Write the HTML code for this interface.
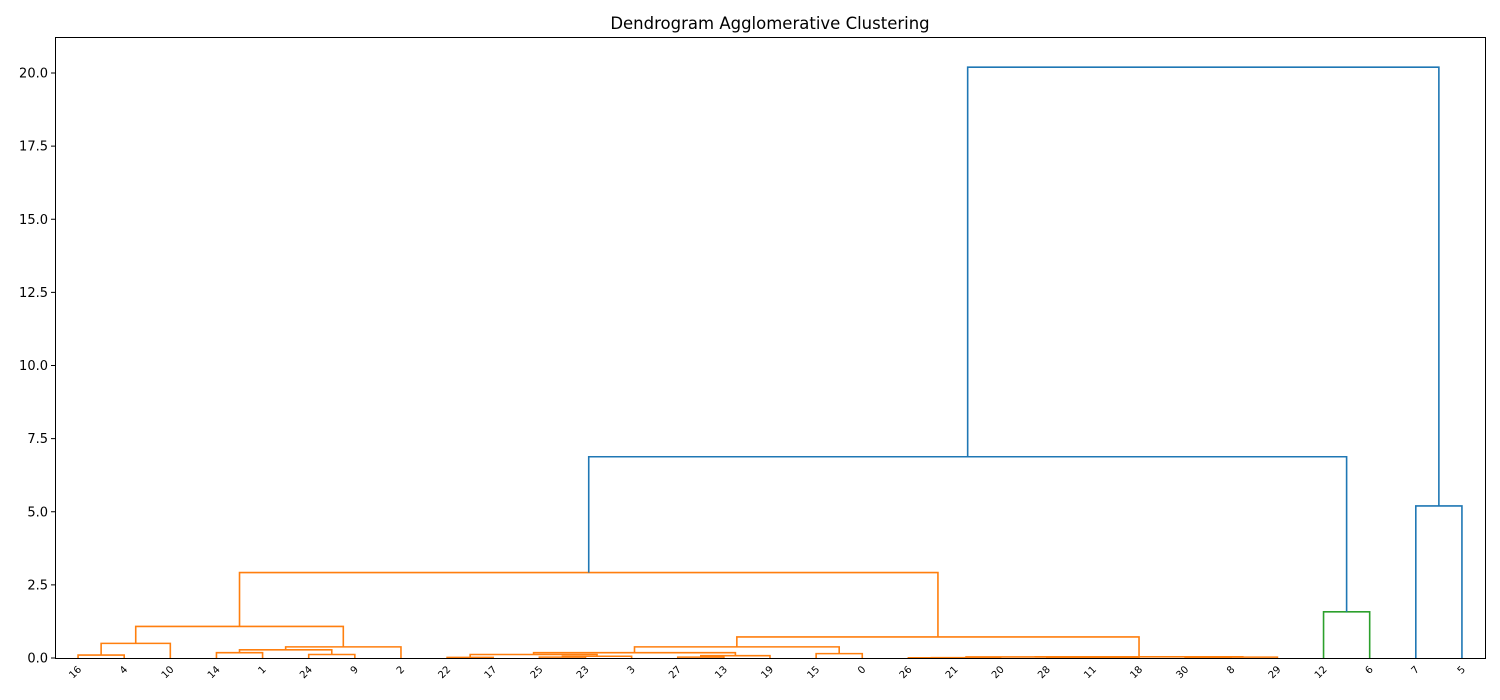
<!DOCTYPE html>
<html><head><meta charset="utf-8">
<style>
body{margin:0;background:#fff;}
svg{display:block;font-family:"DejaVu Sans","Liberation Sans",sans-serif;}
</style></head>
<body>
<svg id="chart" width="1500" height="700" xmlns="http://www.w3.org/2000/svg">
<rect width="1500" height="700" fill="#fff"/>
<text x="770" y="29" text-anchor="middle" font-size="16.5">Dendrogram Agglomerative Clustering</text>
<g id="links"></g>
<g id="yaxis"></g>
<g id="xaxis"></g>
<rect x="55.5" y="37.5" width="1430" height="621" fill="none" stroke="#000" stroke-width="1"/>
</svg>
<script>
const leafLabels = ["16","4","10","14","1","24","9","2","22","17","25","23","3","27","13","19","15","0","26","21","20","28","11","18","30","8","29","12","6","7","5"];
// node ids: 0..30 leaves (by position), 31+i = cluster created by link i
const linkLeft   = [0, 31, 3, 5, 33, 35, 32, 8, 10, 39, 38, 13, 42, 41, 16, 44, 18, 47, 21, 49, 48, 24, 52, 51, 46, 37, 27, 56, 29, 58];
const linkRight  = [1, 2,  4, 6, 34, 7,  36, 9, 11, 12, 40, 14, 15, 43, 17, 45, 19, 20, 22, 23, 50, 25, 26, 53, 54, 55, 28, 57, 30, 59];
const linkHeight = [0.1,0.5,0.18,0.12,0.28,0.38,1.08,0.02,0.03,0.06,0.12,0.03,0.08,0.18,0.15,0.38,0.005,0.01,0.02,0.025,0.035,0.02,0.03,0.04,0.72,2.92,1.58,6.88,5.2,20.2];
const linkGroup  = ["o","o","o","o","o","o","o","o","o","o","o","o","o","o","o","o","o","o","o","o","o","o","o","o","o","o","g","b","b","b"];
const yTicks = [0,2.5,5,7.5,10,12.5,15,17.5,20];

const NS="http://www.w3.org/2000/svg";
const X0=55, X1=1485, Y0=658, pxPerUnit=(658-73)/20;
const xScale = p => X0 + (10*p+5)*(X1-X0)/(leafLabels.length*10);
const yScale = v => Y0 - v*pxPerUnit;
const colors = {o:"#ff7f0e", g:"#2ca02c", b:"#1f77b4"};

const nodeX = leafLabels.map((_,i)=>xScale(i));
const nodeH = leafLabels.map(()=>0);
const gl = document.getElementById('links');
for(let i=0;i<linkHeight.length;i++){
  const a=linkLeft[i], b=linkRight[i];
  const xa=nodeX[a], xb=nodeX[b];
  const ha=nodeH[a], hb=nodeH[b], h=linkHeight[i];
  const p=document.createElementNS(NS,'path');
  p.setAttribute('d',`M${xa},${yScale(ha)}V${yScale(h)}H${xb}V${yScale(hb)}`);
  p.setAttribute('fill','none');
  p.setAttribute('stroke',colors[linkGroup[i]]);
  p.setAttribute('stroke-width','1.6');
  
  
  gl.appendChild(p);
  nodeX.push((xa+xb)/2); nodeH.push(h);
}

const gy=document.getElementById('yaxis');
yTicks.forEach(t=>{
  const y=yScale(t);
  const l=document.createElementNS(NS,'line');
  l.setAttribute('x1',X0-4);l.setAttribute('x2',X0);l.setAttribute('y1',y);l.setAttribute('y2',y);
  l.setAttribute('stroke','#000');
  
  
  gy.appendChild(l);
  const tx=document.createElementNS(NS,'text');
  tx.setAttribute('x',X0-7);tx.setAttribute('y',y+4.5);tx.setAttribute('text-anchor','end');tx.setAttribute('font-size','13');
  tx.textContent=t.toFixed(1);
  
  
  gy.appendChild(tx);
});
const gx=document.getElementById('xaxis');
leafLabels.forEach((lab,i)=>{
  const x=xScale(i);
  const tx=document.createElementNS(NS,'text');
  tx.setAttribute('transform',`translate(${x+4},${Y0+12}) rotate(-45)`);
  tx.setAttribute('text-anchor','end');tx.setAttribute('font-size','10');
  tx.textContent=lab;
  
  
  gx.appendChild(tx);
});
</script>
</body></html>
